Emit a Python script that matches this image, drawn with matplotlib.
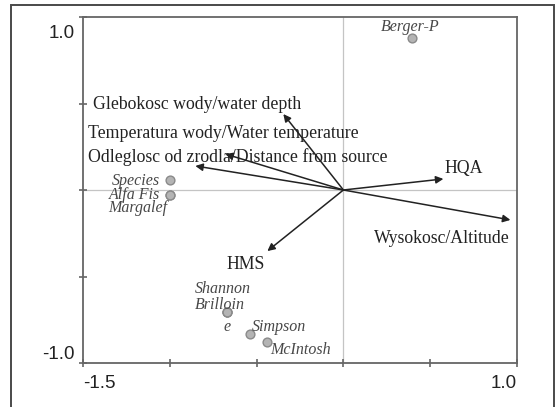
import matplotlib
matplotlib.use("Agg")
import matplotlib.pyplot as plt
import matplotlib.transforms as mtransforms
from matplotlib.patches import Rectangle

# environmental variables (arrows)
env_names = [
    "Glebokosc wody/water depth",
    "Temperatura wody/Water temperature",
    "Odleglosc od zrodla/Distance from source",
    "HQA",
    "Wysokosc/Altitude",
    "HMS",
]
env_x = [-0.346, -0.680, -0.853, 0.576, 0.962, -0.438]
env_y = [0.439, 0.208, 0.139, 0.064, -0.173, -0.353]

# diversity indices (points)
idx_names = ["Berger-P", "Species", "Alfa Fis", "Margalef",
             "Shannon", "Brilloin", "e", "Simpson", "McIntosh"]
idx_x = [0.397, -0.997, -0.997, -0.997, -0.668, -0.668, -0.668, -0.536, -0.438]
idx_y = [0.879, 0.058, -0.029, -0.029, -0.705, -0.705, -0.705, -0.832, -0.879]

# label anchors (x, y, ha)
env_label_pos = [
    (-1.442, 0.497, "left"),
    (-1.471, 0.329, "left"),
    (-1.471, 0.191, "left"),
    (0.580, 0.127, "left"),
    (0.176, -0.283, "left"),
    (-0.676, -0.428, "left"),
]
idx_label_pos = [
    (0.384, 0.942, "center"),
    (-1.056, 0.052, "right"),
    (-1.056, -0.029, "right"),
    (-1.016, -0.104, "right"),
    (-0.855, -0.572, "left"),
    (-0.855, -0.665, "left"),
    (-0.670, -0.792, "center"),
    (-0.526, -0.792, "left"),
    (-0.423, -0.925, "left"),
]

xticks = [-1.5, -1.0, -0.5, 0.0, 0.5, 1.0]
yticks = [-1.0, -0.5, 0.0, 0.5, 1.0]

TEXT = "#222222"
SPINE = "#666666"

fig = plt.figure(figsize=(5.58, 4.07), dpi=100)
fig.patch.set_facecolor("white")

# outer frame around the figure
fig.add_artist(Rectangle((11 / 558, -0.02), 543 / 558, 1.02 - 5 / 407,
                         transform=fig.transFigure, fill=False,
                         edgecolor="#4a4a4a", linewidth=1.4))

ax = fig.add_axes([83 / 558, 1 - 363 / 407, 434 / 558, 346 / 407])
ax.set_xlim(-1.5, 1.0)
ax.set_ylim(-1.0, 1.0)

ax.axhline(0, color="#c4c4c4", linewidth=0.9, zorder=0)
ax.axvline(0, color="#c4c4c4", linewidth=0.9, zorder=0)

for spine in ax.spines.values():
    spine.set_edgecolor(SPINE)
    spine.set_linewidth(1.3)

ax.set_xticks(xticks, ["-1.5", "", "", "", "", "1.0"])
ax.set_yticks(yticks, ["-1.0", "", "", "", "1.0"])
ax.tick_params(direction="inout", length=6, width=1.2, color=SPINE,
               labelsize=13.5, labelcolor=TEXT)
ax.tick_params(axis="x", pad=6)
ax.tick_params(axis="y", pad=3)
for lab in ax.get_xticklabels() + ax.get_yticklabels():
    lab.set_fontfamily("Liberation Sans")

xl = ax.get_xticklabels()
xl[0].set_ha("left")
xl[-1].set_ha("right")
yl = ax.get_yticklabels()
yl[0].set_va("bottom")
yl[-1].set_va("top")
yl[-1].set_transform(yl[-1].get_transform() +
                     mtransforms.ScaledTranslation(0, -0.08, fig.dpi_scale_trans))

# arrows from the origin
for x, y in zip(env_x, env_y):
    ax.annotate("", xy=(x, y), xytext=(0, 0),
                arrowprops=dict(arrowstyle="-|>", color="#222222", lw=1.1,
                                mutation_scale=11, shrinkA=0, shrinkB=0))

for name, (lx, ly, ha) in zip(env_names, env_label_pos):
    ax.text(lx, ly, name, ha=ha, va="center", fontsize=12.8,
            family="Liberation Serif", color=TEXT)

# index points
ax.scatter(idx_x, idx_y, s=40, facecolor="#b4b4b4", edgecolor="#8a8a8a",
           linewidth=1.0, zorder=3)
for name, (lx, ly, ha) in zip(idx_names, idx_label_pos):
    ax.text(lx, ly, name, ha=ha, va="center", fontsize=11.5,
            family="Liberation Serif", style="italic", color="#484848")

fig.savefig("out.png", dpi=100, facecolor="white")
